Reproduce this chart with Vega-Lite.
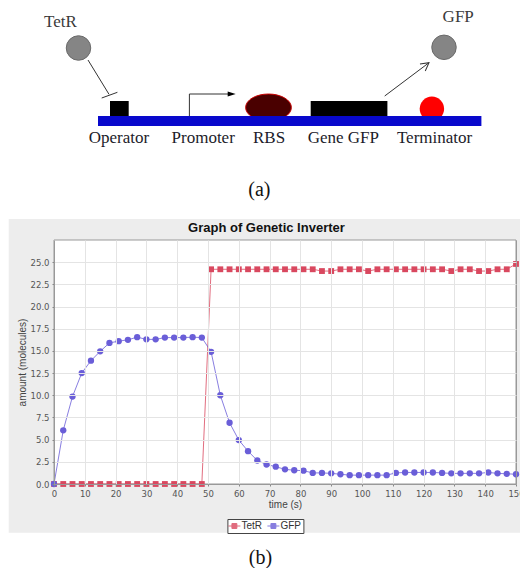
{
  "$schema": "https://vega.github.io/schema/vega-lite/v6.json",
  "background": "white",
  "padding": {"left": 8, "top": 0, "right": 0, "bottom": 4},
  "spacing": 0,
  "resolve": {"scale": {"color": "independent"}, "legend": {"color": "independent"}},
  "config": {
    "view": {"stroke": null},
    "font": "Liberation Sans",
    "axis": {
      "labelFont": "DejaVu Sans", "labelFontSize": 8.5, "labelColor": "#555",
      "titleFont": "Liberation Sans", "titleFontSize": 10, "titleFontWeight": "normal", "titleColor": "#444",
      "tickSize": 2, "tickColor": "#888", "domainColor": "#999", "labelPadding": 3
    },
    "legend": {
      "orient": "none", "legendX": 173.4, "legendY": 279, "direction": "horizontal", "title": null,
      "fillColor": "#ffffff", "strokeColor": "#444444", "padding": 2,
      "labelFont": "Liberation Sans", "labelFontSize": 10, "labelColor": "#333333", "labelOffset": 2, "columnPadding": 3,
      "symbolSize": 81, "symbolStrokeWidth": 1, "symbolType": "M-1.33,0H1.33M-0.55,-0.55H0.55V0.55H-0.55Z"
    }
  },
  "title": {"text": "(b)", "orient": "bottom", "anchor": "middle", "frame": "bounds", "font": "Liberation Serif", "fontSize": 20, "fontWeight": "normal", "color": "#111", "offset": 30, "dx": -6, "baseline": "alphabetic"},
  "datasets": {
    "series": [
      {"t": 0, "series": "TetR", "amount": 0}, {"t": 3, "series": "TetR", "amount": 0}, {"t": 6, "series": "TetR", "amount": 0}, {"t": 9, "series": "TetR", "amount": 0}, {"t": 12, "series": "TetR", "amount": 0}, {"t": 15, "series": "TetR", "amount": 0}, {"t": 18, "series": "TetR", "amount": 0}, {"t": 21, "series": "TetR", "amount": 0}, {"t": 24, "series": "TetR", "amount": 0}, {"t": 27, "series": "TetR", "amount": 0}, {"t": 30, "series": "TetR", "amount": 0}, {"t": 33, "series": "TetR", "amount": 0}, {"t": 36, "series": "TetR", "amount": 0}, {"t": 39, "series": "TetR", "amount": 0}, {"t": 42, "series": "TetR", "amount": 0}, {"t": 45, "series": "TetR", "amount": 0}, {"t": 48, "series": "TetR", "amount": 0},
      {"t": 51, "series": "TetR", "amount": 24.2}, {"t": 54, "series": "TetR", "amount": 24.2}, {"t": 57, "series": "TetR", "amount": 24.2}, {"t": 60, "series": "TetR", "amount": 24.2}, {"t": 63, "series": "TetR", "amount": 24.2}, {"t": 66, "series": "TetR", "amount": 24.2}, {"t": 69, "series": "TetR", "amount": 24.2}, {"t": 72, "series": "TetR", "amount": 24.2}, {"t": 75, "series": "TetR", "amount": 24.2}, {"t": 78, "series": "TetR", "amount": 24.2}, {"t": 81, "series": "TetR", "amount": 24.2}, {"t": 84, "series": "TetR", "amount": 24.2}, {"t": 87, "series": "TetR", "amount": 24.0}, {"t": 90, "series": "TetR", "amount": 24.0}, {"t": 93, "series": "TetR", "amount": 24.2}, {"t": 96, "series": "TetR", "amount": 24.2}, {"t": 99, "series": "TetR", "amount": 24.2}, {"t": 102, "series": "TetR", "amount": 24.0}, {"t": 105, "series": "TetR", "amount": 24.2}, {"t": 108, "series": "TetR", "amount": 24.2}, {"t": 111, "series": "TetR", "amount": 24.2}, {"t": 114, "series": "TetR", "amount": 24.2}, {"t": 117, "series": "TetR", "amount": 24.2}, {"t": 120, "series": "TetR", "amount": 24.2}, {"t": 123, "series": "TetR", "amount": 24.2}, {"t": 126, "series": "TetR", "amount": 24.2}, {"t": 129, "series": "TetR", "amount": 24.0}, {"t": 132, "series": "TetR", "amount": 24.2}, {"t": 135, "series": "TetR", "amount": 24.2}, {"t": 138, "series": "TetR", "amount": 24.0}, {"t": 141, "series": "TetR", "amount": 24.0}, {"t": 144, "series": "TetR", "amount": 24.2}, {"t": 147, "series": "TetR", "amount": 24.2}, {"t": 150, "series": "TetR", "amount": 24.8},
      {"t": 0, "series": "GFP", "amount": 0}, {"t": 3, "series": "GFP", "amount": 6.05}, {"t": 6, "series": "GFP", "amount": 9.85}, {"t": 9, "series": "GFP", "amount": 12.5}, {"t": 12, "series": "GFP", "amount": 13.9}, {"t": 15, "series": "GFP", "amount": 14.95}, {"t": 18, "series": "GFP", "amount": 15.9}, {"t": 21, "series": "GFP", "amount": 16.1}, {"t": 24, "series": "GFP", "amount": 16.25}, {"t": 27, "series": "GFP", "amount": 16.55}, {"t": 30, "series": "GFP", "amount": 16.3}, {"t": 33, "series": "GFP", "amount": 16.3}, {"t": 36, "series": "GFP", "amount": 16.5}, {"t": 39, "series": "GFP", "amount": 16.5}, {"t": 42, "series": "GFP", "amount": 16.5}, {"t": 45, "series": "GFP", "amount": 16.55}, {"t": 48, "series": "GFP", "amount": 16.5},
      {"t": 51, "series": "GFP", "amount": 14.9}, {"t": 54, "series": "GFP", "amount": 10.0}, {"t": 57, "series": "GFP", "amount": 6.9}, {"t": 60, "series": "GFP", "amount": 4.95}, {"t": 63, "series": "GFP", "amount": 3.7}, {"t": 66, "series": "GFP", "amount": 2.65}, {"t": 69, "series": "GFP", "amount": 2.2}, {"t": 72, "series": "GFP", "amount": 1.95}, {"t": 75, "series": "GFP", "amount": 1.65}, {"t": 78, "series": "GFP", "amount": 1.55}, {"t": 81, "series": "GFP", "amount": 1.5}, {"t": 84, "series": "GFP", "amount": 1.25}, {"t": 87, "series": "GFP", "amount": 1.25}, {"t": 90, "series": "GFP", "amount": 1.2}, {"t": 93, "series": "GFP", "amount": 1.1}, {"t": 96, "series": "GFP", "amount": 1.0}, {"t": 99, "series": "GFP", "amount": 1.0}, {"t": 102, "series": "GFP", "amount": 1.0}, {"t": 105, "series": "GFP", "amount": 1.0}, {"t": 108, "series": "GFP", "amount": 1.0}, {"t": 111, "series": "GFP", "amount": 1.25}, {"t": 114, "series": "GFP", "amount": 1.3}, {"t": 117, "series": "GFP", "amount": 1.3}, {"t": 120, "series": "GFP", "amount": 1.3}, {"t": 123, "series": "GFP", "amount": 1.3}, {"t": 126, "series": "GFP", "amount": 1.25}, {"t": 129, "series": "GFP", "amount": 1.2}, {"t": 132, "series": "GFP", "amount": 1.2}, {"t": 135, "series": "GFP", "amount": 1.2}, {"t": 138, "series": "GFP", "amount": 1.2}, {"t": 141, "series": "GFP", "amount": 1.3}, {"t": 144, "series": "GFP", "amount": 1.2}, {"t": 147, "series": "GFP", "amount": 1.15}, {"t": 150, "series": "GFP", "amount": 1.1}
    ],
    "rbs": [{"part": "RBS", "x": 42.9, "y": 22.1}],
    "terminator": [{"part": "Terminator", "x": 75.58, "y": 21.84}],
    "molecules": [{"molecule": "TetR", "x": 4.9, "y": 34.0}, {"molecule": "GFP", "x": 78.0, "y": 34.14}],
    "dna": [{"part": "DNA", "x": 8.8, "x2": 85.48, "y": 18.4, "y2": 20.4}],
    "blocks": [
      {"part": "Operator", "x": 11.2, "x2": 14.94, "y": 20.4, "y2": 23.4},
      {"part": "Gene GFP", "x": 51.34, "x2": 66.68, "y": 20.4, "y2": 23.4}
    ],
    "links": [
      {"link": "promoter stem", "x": 27.08, "y": 20.4, "x2": 27.08, "y2": 24.8},
      {"link": "promoter", "x": 27.08, "y": 24.8, "x2": 34.94, "y2": 24.8},
      {"link": "repression", "x": 6.8, "y": 31.6, "x2": 11.0, "y2": 24.74},
      {"link": "repression bar", "x": 9.54, "y": 24.0, "x2": 12.68, "y2": 25.14},
      {"link": "expression", "x": 66.14, "y": 24.4, "x2": 75.0, "y2": 31.06}
    ],
    "promoterHead": [{"link": "promoter", "x": 35.54, "y": 24.8}],
    "expressionHead": [{"link": "expression", "x": 75.0, "y": 31.06}],
    "partLabels": [
      {"label": "Operator", "x": 12.98, "y": 15.0},
      {"label": "Promoter", "x": 29.84, "y": 15.0},
      {"label": "RBS", "x": 43.01, "y": 15.0},
      {"label": "Gene GFP", "x": 57.87, "y": 15.0},
      {"label": "Terminator", "x": 76.11, "y": 15.0}
    ],
    "moleculeLabels": [{"label": "TetR", "x": 1.28, "y": 38.26}, {"label": "GFP", "x": 80.84, "y": 39.26}],
    "caption": [{"label": "(a)", "x": 41.08, "y": 4.5}]
  },
  "vconcat": [
    {
      "width": 466.7,
      "height": 218,
      "layer": [
        {
          "data": {"name": "rbs"},
          "mark": {"type": "point", "shape": "M-1,0A1,0.59,0,1,1,1,0A1,0.59,0,1,1,-1,0Z", "size": 2088, "filled": true, "fill": "#4a0000", "stroke": "#cc0000", "strokeWidth": 1, "opacity": 1},
          "encoding": {
            "x": {"field": "x", "type": "quantitative", "scale": {"domain": [0, 93.34], "nice": false, "zero": false}, "axis": null},
            "y": {"field": "y", "type": "quantitative", "scale": {"domain": [0, 43.6], "nice": false, "zero": false}, "axis": null}
          }
        },
        {
          "data": {"name": "terminator"},
          "mark": {"type": "point", "shape": "circle", "size": 598, "filled": true, "fill": "#ff0000", "opacity": 1},
          "encoding": {
            "x": {"field": "x", "type": "quantitative", "scale": {"domain": [0, 93.34], "nice": false, "zero": false}, "axis": null},
            "y": {"field": "y", "type": "quantitative", "scale": {"domain": [0, 43.6], "nice": false, "zero": false}, "axis": null}
          }
        },
        {
          "data": {"name": "molecules"},
          "mark": {"type": "point", "shape": "circle", "size": 600, "filled": true, "fill": "#858585", "stroke": "#6a6a6a", "strokeWidth": 1, "opacity": 1},
          "encoding": {
            "x": {"field": "x", "type": "quantitative", "scale": {"domain": [0, 93.34], "nice": false, "zero": false}, "axis": null},
            "y": {"field": "y", "type": "quantitative", "scale": {"domain": [0, 43.6], "nice": false, "zero": false}, "axis": null}
          }
        },
        {
          "data": {"name": "dna"},
          "mark": {"type": "rect", "fill": "#0808cc"},
          "encoding": {
            "x": {"field": "x", "type": "quantitative", "scale": {"domain": [0, 93.34], "nice": false, "zero": false}, "axis": null},
            "x2": {"field": "x2"},
            "y": {"field": "y", "type": "quantitative", "scale": {"domain": [0, 43.6], "nice": false, "zero": false}, "axis": null},
            "y2": {"field": "y2"}
          }
        },
        {
          "data": {"name": "blocks"},
          "mark": {"type": "rect", "fill": "#000000"},
          "encoding": {
            "x": {"field": "x", "type": "quantitative", "scale": {"domain": [0, 93.34], "nice": false, "zero": false}, "axis": null},
            "x2": {"field": "x2"},
            "y": {"field": "y", "type": "quantitative", "scale": {"domain": [0, 43.6], "nice": false, "zero": false}, "axis": null},
            "y2": {"field": "y2"}
          }
        },
        {
          "data": {"name": "links"},
          "mark": {"type": "rule", "color": "#333333", "strokeWidth": 1},
          "encoding": {
            "x": {"field": "x", "type": "quantitative", "scale": {"domain": [0, 93.34], "nice": false, "zero": false}, "axis": null},
            "x2": {"field": "x2"},
            "y": {"field": "y", "type": "quantitative", "scale": {"domain": [0, 43.6], "nice": false, "zero": false}, "axis": null},
            "y2": {"field": "y2"}
          }
        },
        {
          "data": {"name": "promoterHead"},
          "mark": {"type": "point", "shape": "M-1,-0.6L1,0L-1,0.6Z", "size": 64, "filled": true, "fill": "#000000", "opacity": 1},
          "encoding": {
            "x": {"field": "x", "type": "quantitative", "scale": {"domain": [0, 93.34], "nice": false, "zero": false}, "axis": null},
            "y": {"field": "y", "type": "quantitative", "scale": {"domain": [0, 43.6], "nice": false, "zero": false}, "axis": null}
          }
        },
        {
          "data": {"name": "expressionHead"},
          "mark": {"type": "point", "shape": "M-1,-0.55L0,0L-1,0.55", "size": 256, "filled": false, "stroke": "#333333", "strokeWidth": 1, "angle": -37, "opacity": 1},
          "encoding": {
            "x": {"field": "x", "type": "quantitative", "scale": {"domain": [0, 93.34], "nice": false, "zero": false}, "axis": null},
            "y": {"field": "y", "type": "quantitative", "scale": {"domain": [0, 43.6], "nice": false, "zero": false}, "axis": null}
          }
        },
        {
          "data": {"name": "partLabels"},
          "mark": {"type": "text", "font": "Liberation Serif", "fontSize": 17, "color": "#1c1c2a", "align": "center", "baseline": "alphabetic"},
          "encoding": {
            "x": {"field": "x", "type": "quantitative", "scale": {"domain": [0, 93.34], "nice": false, "zero": false}, "axis": null},
            "y": {"field": "y", "type": "quantitative", "scale": {"domain": [0, 43.6], "nice": false, "zero": false}, "axis": null},
            "text": {"field": "label"}
          }
        },
        {
          "data": {"name": "moleculeLabels"},
          "mark": {"type": "text", "font": "Liberation Serif", "fontSize": 17, "color": "#3a3a3a", "align": "center", "baseline": "alphabetic"},
          "encoding": {
            "x": {"field": "x", "type": "quantitative", "scale": {"domain": [0, 93.34], "nice": false, "zero": false}, "axis": null},
            "y": {"field": "y", "type": "quantitative", "scale": {"domain": [0, 43.6], "nice": false, "zero": false}, "axis": null},
            "text": {"field": "label"}
          }
        },
        {
          "data": {"name": "caption"},
          "mark": {"type": "text", "font": "Liberation Serif", "fontSize": 20, "color": "#111111", "align": "center", "baseline": "alphabetic"},
          "encoding": {
            "x": {"field": "x", "type": "quantitative", "scale": {"domain": [0, 93.34], "nice": false, "zero": false}, "axis": null},
            "y": {"field": "y", "type": "quantitative", "scale": {"domain": [0, 43.6], "nice": false, "zero": false}, "axis": null},
            "text": {"field": "label"}
          }
        }
      ]
    },
    {
      "width": 462,
      "height": 244,
      "title": {"text": "Graph of Genetic Inverter", "anchor": "middle", "frame": "bounds", "font": "Liberation Sans", "fontSize": 13, "fontWeight": "bold", "color": "#111111", "offset": -16},
      "layer": [
        {
          "data": {"values": [{"area": "panel"}]},
          "mark": {"type": "rect", "fill": "#ededed"},
          "encoding": {
            "x": {"datum": -14.7, "type": "quantitative", "scale": {"domain": [0, 150], "nice": false, "zero": false}, "axis": {"title": "time (s)", "values": [0, 10, 20, 30, 40, 50, 60, 70, 80, 90, 100, 110, 120, 130, 140, 150], "grid": true, "gridColor": {"condition": {"test": "datum.value === 150", "value": "#999999"}, "value": "#e4e4e4"}, "labelFlush": false, "labelOverlap": false, "titlePadding": 2, "zindex": 1}},
            "x2": {"datum": 151.5},
            "y": {"datum": 29.87, "type": "quantitative", "scale": {"domain": [0, 27.5], "nice": false, "zero": false}, "axis": {"title": "amount (molecules)", "values": [0, 2.5, 5, 7.5, 10, 12.5, 15, 17.5, 20, 22.5, 25], "format": ".1f", "grid": true, "gridColor": "#e4e4e4", "labelOverlap": false, "titlePadding": 3, "zindex": 1}},
            "y2": {"datum": -5.49}
          }
        },
        {
          "data": {"values": [{"area": "plot"}]},
          "mark": {"type": "rect", "fill": "#ffffff", "stroke": "#999999", "strokeWidth": 1},
          "encoding": {
            "x": {"datum": 0, "type": "quantitative", "scale": {"domain": [0, 150], "nice": false, "zero": false}, "axis": {"title": "time (s)", "values": [0, 10, 20, 30, 40, 50, 60, 70, 80, 90, 100, 110, 120, 130, 140, 150], "grid": true, "gridColor": {"condition": {"test": "datum.value === 150", "value": "#999999"}, "value": "#e4e4e4"}, "labelFlush": false, "labelOverlap": false, "titlePadding": 2, "zindex": 1}},
            "x2": {"datum": 150},
            "y": {"datum": 0, "type": "quantitative", "scale": {"domain": [0, 27.5], "nice": false, "zero": false}, "axis": {"title": "amount (molecules)", "values": [0, 2.5, 5, 7.5, 10, 12.5, 15, 17.5, 20, 22.5, 25], "format": ".1f", "grid": true, "gridColor": "#e4e4e4", "labelOverlap": false, "titlePadding": 3, "zindex": 1}},
            "y2": {"datum": 27.5}
          }
        },
        {
          "data": {"name": "series"},
          "mark": {"type": "line", "strokeWidth": 1, "opacity": 0.8},
          "encoding": {
            "x": {"field": "t", "type": "quantitative", "scale": {"domain": [0, 150], "nice": false, "zero": false}, "axis": {"title": "time (s)", "values": [0, 10, 20, 30, 40, 50, 60, 70, 80, 90, 100, 110, 120, 130, 140, 150], "grid": true, "gridColor": {"condition": {"test": "datum.value === 150", "value": "#999999"}, "value": "#e4e4e4"}, "labelFlush": false, "labelOverlap": false, "titlePadding": 2, "zindex": 1}},
            "y": {"field": "amount", "type": "quantitative", "scale": {"domain": [0, 27.5], "nice": false, "zero": false}, "axis": {"title": "amount (molecules)", "values": [0, 2.5, 5, 7.5, 10, 12.5, 15, 17.5, 20, 22.5, 25], "format": ".1f", "grid": true, "gridColor": "#e4e4e4", "labelOverlap": false, "titlePadding": 3, "zindex": 1}},
            "color": {"field": "series", "type": "nominal", "scale": {"domain": ["TetR", "GFP"], "range": ["#d9485f", "#6a5ed8"]}, "legend": {"encode": {"symbols": {"update": {"shape": {"signal": "datum.value === 'TetR' ? 'M-1.33,0H1.33M-0.55,-0.55H0.55V0.55H-0.55Z' : 'M-1.33,0H1.33M0.6,0A0.6,0.6,0,1,1,-0.6,0A0.6,0.6,0,1,1,0.6,0Z'"}, "fill": {"signal": "datum.value === 'TetR' ? '#d9485f' : '#6a5ed8'"}, "stroke": {"signal": "datum.value === 'TetR' ? '#d9485f' : '#6a5ed8'"}, "opacity": {"value": 1}}}}}},
            "detail": {"field": "series"}
          }
        },
        {
          "data": {"name": "series"},
          "transform": [{"filter": "datum.series === 'TetR'"}],
          "mark": {"type": "point", "shape": "square", "filled": true, "opacity": 1, "size": 34},
          "encoding": {
            "x": {"field": "t", "type": "quantitative", "scale": {"domain": [0, 150], "nice": false, "zero": false}, "axis": {"title": "time (s)", "values": [0, 10, 20, 30, 40, 50, 60, 70, 80, 90, 100, 110, 120, 130, 140, 150], "grid": true, "gridColor": {"condition": {"test": "datum.value === 150", "value": "#999999"}, "value": "#e4e4e4"}, "labelFlush": false, "labelOverlap": false, "titlePadding": 2, "zindex": 1}},
            "y": {"field": "amount", "type": "quantitative", "scale": {"domain": [0, 27.5], "nice": false, "zero": false}, "axis": {"title": "amount (molecules)", "values": [0, 2.5, 5, 7.5, 10, 12.5, 15, 17.5, 20, 22.5, 25], "format": ".1f", "grid": true, "gridColor": "#e4e4e4", "labelOverlap": false, "titlePadding": 3, "zindex": 1}},
            "color": {"field": "series", "type": "nominal", "scale": {"domain": ["TetR", "GFP"], "range": ["#d9485f", "#6a5ed8"]}, "legend": {"encode": {"symbols": {"update": {"shape": {"signal": "datum.value === 'TetR' ? 'M-1.33,0H1.33M-0.55,-0.55H0.55V0.55H-0.55Z' : 'M-1.33,0H1.33M0.6,0A0.6,0.6,0,1,1,-0.6,0A0.6,0.6,0,1,1,0.6,0Z'"}, "fill": {"signal": "datum.value === 'TetR' ? '#d9485f' : '#6a5ed8'"}, "stroke": {"signal": "datum.value === 'TetR' ? '#d9485f' : '#6a5ed8'"}, "opacity": {"value": 1}}}}}}
          }
        },
        {
          "data": {"name": "series"},
          "transform": [{"filter": "datum.series === 'GFP'"}],
          "mark": {"type": "point", "shape": "circle", "filled": true, "opacity": 1, "size": 40},
          "encoding": {
            "x": {"field": "t", "type": "quantitative", "scale": {"domain": [0, 150], "nice": false, "zero": false}, "axis": {"title": "time (s)", "values": [0, 10, 20, 30, 40, 50, 60, 70, 80, 90, 100, 110, 120, 130, 140, 150], "grid": true, "gridColor": {"condition": {"test": "datum.value === 150", "value": "#999999"}, "value": "#e4e4e4"}, "labelFlush": false, "labelOverlap": false, "titlePadding": 2, "zindex": 1}},
            "y": {"field": "amount", "type": "quantitative", "scale": {"domain": [0, 27.5], "nice": false, "zero": false}, "axis": {"title": "amount (molecules)", "values": [0, 2.5, 5, 7.5, 10, 12.5, 15, 17.5, 20, 22.5, 25], "format": ".1f", "grid": true, "gridColor": "#e4e4e4", "labelOverlap": false, "titlePadding": 3, "zindex": 1}},
            "color": {"field": "series", "type": "nominal", "scale": {"domain": ["TetR", "GFP"], "range": ["#d9485f", "#6a5ed8"]}, "legend": {"encode": {"symbols": {"update": {"shape": {"signal": "datum.value === 'TetR' ? 'M-1.33,0H1.33M-0.55,-0.55H0.55V0.55H-0.55Z' : 'M-1.33,0H1.33M0.6,0A0.6,0.6,0,1,1,-0.6,0A0.6,0.6,0,1,1,0.6,0Z'"}, "fill": {"signal": "datum.value === 'TetR' ? '#d9485f' : '#6a5ed8'"}, "stroke": {"signal": "datum.value === 'TetR' ? '#d9485f' : '#6a5ed8'"}, "opacity": {"value": 1}}}}}}
          }
        }
      ]
    }
  ]
}
